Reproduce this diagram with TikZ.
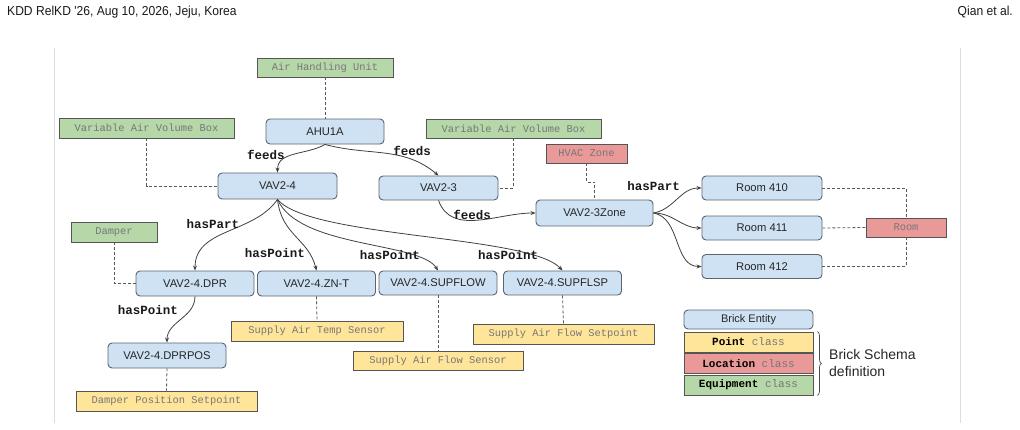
\documentclass[tikz,border=0pt]{standalone}
\usepackage{fontspec}
\setmainfont{Liberation Sans}
\setsansfont{Liberation Sans}
\setmonofont{Liberation Mono}
\newfontfamily\hdrfont[FakeStretch=0.93]{Liberation Sans}
\usetikzlibrary{arrows.meta,decorations.pathreplacing}
\definecolor{entf}{HTML}{CFE2F3}
\definecolor{entb}{HTML}{5A6470}
\definecolor{eqf}{HTML}{B6D7A8}
\definecolor{locf}{HTML}{EA9999}
\definecolor{ptf}{HTML}{FFE599}
\definecolor{clsb}{HTML}{555555}
\definecolor{clstxt}{HTML}{777777}
\definecolor{framec}{HTML}{DDDDDD}
\tikzset{
  ent/.style={draw=entb, fill=entf, rounded corners=4pt, line width=0.9pt, text=black!85,
    font=\fontsize{11.2}{13}\selectfont, inner sep=0pt, minimum width=119pt, minimum height=25pt},
  cls/.style={draw=clsb, line width=0.9pt, text=clstxt, font=\ttfamily\fontsize{10.4}{12}\selectfont,
    inner sep=0pt, minimum height=20pt},
  eqbox/.style={cls, fill=eqf},
  locbox/.style={cls, fill=locf},
  ptbox/.style={cls, fill=ptf},
  rel/.style={font=\ttfamily\bfseries\fontsize{12.5}{14}\selectfont, inner sep=0pt, text=black!90},
  arr/.style={-{Stealth[length=5pt,width=4pt]}, draw=black!75, line width=0.8pt},
  dsh/.style={dash pattern=on 3pt off 2pt, draw=black!65, line width=0.8pt},
  lgfont/.style={font=\ttfamily\fontsize{11}{13}\selectfont},
  hdrstyle/.style={font=\hdrfont\fontsize{13}{15}\selectfont, inner sep=0pt, text=black!90},
}
\begin{document}
\begin{tikzpicture}[x=1pt,y=-1pt]
\useasboundingbox (0,0) rectangle (1020,429);
% header
\node[anchor=west, hdrstyle] (hdr) at (7,12) {KDD RelKD '26, Aug 10, 2026, Jeju, Korea};
\node[anchor=east, hdrstyle] (hdr2) at (1013,12) {Qian et al.};
% frame lines
\draw[framec, line width=1pt] (54,48) -- (54,423);
\draw[framec, line width=1pt] (960,48) -- (960,423);
% nodes
\node[eqbox, minimum width=136pt, minimum height=19pt] (ahuc) at (325,67.5) {Air Handling Unit};
\node[ent, minimum width=118pt] (ahu) at (325,131.5) {AHU1A};
\node[eqbox, minimum width=175pt] (vavbl) at (146.5,128) {Variable Air Volume Box};
\node[ent, minimum height=26pt] (vav24) at (277.5,186) {VAV2-4};
\node[eqbox, minimum width=175pt, minimum height=19pt] (vavbr) at (513.5,128.5) {Variable Air Volume Box};
\node[ent, minimum height=24pt] (vav23) at (438.5,188) {VAV2-3};
\node[locbox, minimum width=81pt, minimum height=19pt] (hvacz) at (586.5,153.5) {HVAC Zone};
\node[ent, minimum width=117pt, minimum height=26pt] (zone) at (594.5,213) {VAV2-3Zone};
\node[ent, minimum width=120pt, minimum height=24pt] (r410) at (762,188) {Room 410};
\node[ent, minimum width=120pt, minimum height=24pt] (r411) at (762,228) {Room 411};
\node[ent, minimum width=120pt, minimum height=24pt] (r412) at (762,266.5) {Room 412};
\node[locbox, minimum width=80pt, minimum height=19pt] (room) at (906,227.5) {Room};
\node[eqbox, minimum width=86pt] (damper) at (114,232) {Damper};
\node[ent, minimum width=118pt] (dpr) at (195,283.5) {VAV2-4.DPR};
\node[ent, minimum width=118pt] (znt) at (316.5,283.5) {VAV2-4.ZN-T};
\node[ent, minimum width=118pt, minimum height=24pt] (supflow) at (438,283) {VAV2-4.SUPFLOW};
\node[ent, minimum width=118pt, minimum height=24pt] (supflsp) at (562.5,283) {VAV2-4.SUPFLSP};
\node[ent, minimum width=118pt] (dprpos) at (167,355.5) {VAV2-4.DPRPOS};
\node[ptbox, minimum width=181pt] (dps) at (166.5,401) {Damper Position Setpoint};
\node[ptbox, minimum width=172pt] (sats) at (317,331) {Supply Air Temp Sensor};
\node[ptbox, minimum width=170pt, minimum height=19pt] (safs) at (438,361) {Supply Air Flow Sensor};
\node[ptbox, minimum width=181pt] (safsp) at (563.5,334) {Supply Air Flow Setpoint};
% dashed class links
\draw[dsh] (ahuc.south) -- (ahu.north);
\draw[dsh] (vavbl.south) |- (vav24.west);
\draw[dsh] (vavbr.south) |- (vav23.east);
\draw[dsh] (hvacz.south) -- ++(0,19) -| (zone.north);
\draw[dsh] (r410.east) -| (room.north);
\draw[dsh] (r411.east) -- (room.west);
\draw[dsh] (r412.east) -| (room.south);
\draw[dsh] (damper.south) |- (dpr.west);
\draw[dsh] (dprpos.south) -- (dps.north);
\draw[dsh] (znt.south) -- (sats.north);
\draw[dsh] (supflow.south) -- (safs.north);
\draw[dsh] (supflsp.south) -- (safsp.north);
% relation arrows
\draw[arr] (ahu.south) to[out=-150,in=90] (vav24.north);
\draw[arr] (ahu.south) to[out=-15,in=140] (vav23.north);
\draw[arr] (vav23.south) to[out=-70,in=180] (zone.west);
\draw[arr] (zone.east) to[out=10,in=180] (r410.west);
\draw[arr] (zone.east) to[out=0,in=180] (r411.west);
\draw[arr] (zone.east) to[out=-10,in=180] (r412.west);
\draw[arr] (vav24.south) to[out=-125,in=90] (dpr.north);
\draw[arr] (vav24.south) .. controls +(4,36) and +(-8,-32) .. (znt.north);
\draw[arr] (vav24.south) .. controls +(22,49) and +(-18,-29) .. (supflow.north);
\draw[arr] (vav24.south) .. controls +(33,39) and +(-33,-36) .. (supflsp.north);
\draw[arr] (dpr.south) to[out=-90,in=90] (dprpos.north);
% relation labels
\node[rel] (lf1) at (266,155) {feeds};
\node[rel] (lf2) at (412,151) {feeds};
\node[rel] (lf3) at (472,215) {feeds};
\node[rel] (lhp1) at (653.5,186) {hasPart};
\node[rel] (lhp2) at (213,224) {hasPart};
\node[rel] (lpt1) at (275,253) {hasPoint};
\node[rel] (lpt2) at (390,255) {hasPoint};
\node[rel] (lpt3) at (508,255) {hasPoint};
\node[rel] (lpt4) at (148,310) {hasPoint};
% legend
\node[ent, minimum width=129pt, minimum height=19pt, font=\fontsize{11}{13}\selectfont] (lgent) at (748.5,319.5) {Brick Entity};
\node[ptbox, minimum width=129pt, lgfont] (lgpt) at (748.5,342) {\textcolor{black}{\bfseries Point} class};
\node[locbox, minimum width=129pt, lgfont] (lgloc) at (748.5,363.5) {\textcolor{black}{\bfseries Location} class};
\node[eqbox, minimum width=129pt, lgfont] (lgeq) at (748.5,385) {\textcolor{black}{\bfseries Equipment} class};
\draw[draw=black!70, line width=0.7pt, decorate, decoration={brace,amplitude=4pt}] ([xshift=4pt]lgpt.north east) -- ([xshift=4pt]lgeq.south east);
\node[anchor=west, align=left, font=\fontsize{14}{17}\selectfont, text=black!85, inner sep=0pt] (lgtxt) at (829,363) {Brick Schema\\definition};
\end{tikzpicture}
\end{document}
